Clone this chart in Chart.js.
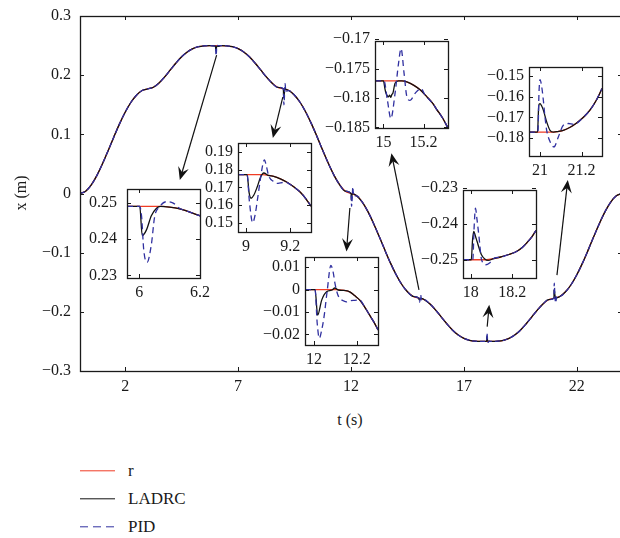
<!DOCTYPE html>
<html>
<head>
<meta charset="utf-8">
<script src="https://cdn.jsdelivr.net/npm/chart.js@4.4.0/dist/chart.umd.min.js"></script>
<style>
  body { margin: 0; width: 620px; height: 538px; overflow: hidden; background: #fff; position: relative;
         font-family: "Liberation Serif", "Times New Roman", serif; color: #1a1a1a; }
  canvas { position: absolute; }
  .txt { position: absolute; font-size: 16px; white-space: nowrap; }
  .leg { font-size: 17px; }
  .leg-line { position: absolute; left: 80px; width: 35px; height: 1.4px; transform: translateY(-50%); }
</style>
</head>
<body>
<canvas id="main" width="626" height="400" style="left:0;top:0"></canvas>

<div class="txt" style="left:21px;top:193px;transform:translate(-50%,-50%) rotate(-90deg)">x (m)</div>
<div class="txt" style="left:350px;top:420px;transform:translate(-50%,-50%)">t (s)</div>

<div class="leg-line" style="top:471px;background:#f03c24"></div>
<div class="txt leg" style="left:128px;top:471px;transform:translateY(-50%)">r</div>
<div class="leg-line" style="top:499px;background:#111"></div>
<div class="txt leg" style="left:128px;top:499px;transform:translateY(-50%)">LADRC</div>
<div class="leg-line" style="top:527px;background:repeating-linear-gradient(90deg,#3030a0 0 8px,transparent 8px 13px)"></div>
<div class="txt leg" style="left:128px;top:527px;transform:translateY(-50%)">PID</div>

<script>
// ---- main chart data ----
const timeTicks = [2, 7, 12, 17, 22];
const posTicks = [-0.3, -0.2, -0.1, 0, 0.1, 0.2, 0.3];

const tBase = [0,0.25,0.5,0.75,1,1.25,1.5,1.75,2,2.25,2.5,2.75,3,3.25,3.5,3.75,4,4.25,4.5,4.75,5,5.25,5.5,5.75,
  6,6.25,6.5,6.75,7,7.25,7.5,7.75,8,8.25,8.5,8.75,9,9.25,9.5,9.75,10,10.25,10.5,10.75,11,11.25,11.5,11.75,
  12,12.25,12.5,12.75,13,13.25,13.5,13.75,14,14.25,14.5,14.75,15,15.25,15.5,15.75,16,16.25,16.5,16.75,17,17.25,17.5,17.75,
  18,18.25,18.5,18.75,19,19.25,19.5,19.75,20,20.25,20.5,20.75,21,21.25,21.5,21.75,22,22.25,22.5,22.75,23,23.25,23.5,23.75,24];
const rBase = [0,0.0039,0.0145,0.0306,0.0506,0.0728,0.0957,0.1177,0.1373,0.1538,0.1661,0.1740,
  0.1768,0.1795,0.1868,0.1971,0.2089,0.2205,0.2310,0.2392,0.2448,0.2481,0.2496,0.2500,
  0.25,0.25,0.2496,0.2481,0.2448,0.2392,0.2310,0.2205,0.2089,0.1971,0.1868,0.1795,
  0.1768,0.1740,0.1661,0.1538,0.1373,0.1177,0.0957,0.0728,0.0506,0.0306,0.0145,0.0039,
  0,-0.0039,-0.0145,-0.0306,-0.0506,-0.0728,-0.0957,-0.1177,-0.1373,-0.1538,-0.1661,-0.1740,
  -0.1768,-0.1795,-0.1868,-0.1971,-0.2089,-0.2205,-0.2310,-0.2392,-0.2448,-0.2481,-0.2496,-0.2500,
  -0.25,-0.25,-0.2496,-0.2481,-0.2448,-0.2392,-0.2310,-0.2205,-0.2089,-0.1971,-0.1868,-0.1795,
  -0.1768,-0.1740,-0.1661,-0.1538,-0.1373,-0.1177,-0.0957,-0.0728,-0.0506,-0.0306,-0.0145,-0.0039,0];

// disturbance instants
const eventTimes = [6, 9, 12, 15, 18, 21];

// ---- inset data (zoomed views) ----
const r1T = [5.96, 6.0, 6.04, 6.08, 6.1, 6.13, 6.16, 6.2];
const r1V = [0.2491, 0.2491, 0.2491, 0.2491, 0.2489, 0.2485, 0.2477, 0.2465];
const l1T = [5.96, 6.002, 6.01, 6.024, 6.04, 6.057, 6.07, 6.1, 6.13, 6.16, 6.2];
const l1V = [0.2491, 0.2491, 0.241, 0.2426, 0.2465, 0.2486, 0.2491, 0.2489, 0.2485, 0.2477, 0.2465];
const p1T = [5.96, 6.002, 6.008, 6.015, 6.026, 6.04, 6.051, 6.066, 6.09, 6.112, 6.134, 6.16, 6.2];
const p1V = [0.2491, 0.2491, 0.2463, 0.2371, 0.2336, 0.2385, 0.2463, 0.2489, 0.2504, 0.25, 0.2485, 0.2477, 0.2465];

const r2T = [8.964, 9.0, 9.05, 9.075, 9.1, 9.125, 9.155, 9.185, 9.215, 9.245, 9.27, 9.293];
const r2V = [0.1772, 0.1772, 0.1772, 0.1772, 0.1768, 0.1762, 0.1748, 0.1729, 0.1703, 0.1672, 0.1635, 0.1593];
const l2T = [8.964, 9.005, 9.014, 9.023, 9.035, 9.05, 9.065, 9.08, 9.1, 9.125, 9.155, 9.185, 9.215, 9.245, 9.27, 9.293];
const l2V = [0.1772, 0.1772, 0.167, 0.1638, 0.1655, 0.170, 0.1755, 0.1781, 0.1768, 0.1762, 0.1748, 0.1729, 0.1703, 0.1672, 0.1635, 0.1593];
const p2T = [8.964, 9.005, 9.015, 9.03, 9.042, 9.05, 9.065, 9.075, 9.083, 9.092, 9.102, 9.125, 9.14, 9.155, 9.177, 9.2, 9.215, 9.245, 9.27, 9.293];
const p2V = [0.1772, 0.1772, 0.1625, 0.150, 0.155, 0.1616, 0.1747, 0.1825, 0.1856, 0.182, 0.1766, 0.1732, 0.1722, 0.1725, 0.1729, 0.1716, 0.1703, 0.1672, 0.1635, 0.1593];

const r3T = [11.958, 12.0, 12.05, 12.11, 12.14, 12.167, 12.19, 12.214, 12.237, 12.26, 12.28, 12.299];
const r3V = [0, 0, 0, 0, -0.0004, -0.001, -0.0027, -0.0047, -0.0078, -0.0114, -0.0145, -0.018];
const l3T = [11.958, 12.005, 12.017, 12.036, 12.059, 12.082, 12.098, 12.113, 12.14, 12.167, 12.19, 12.214, 12.237, 12.26, 12.28, 12.299];
const l3V = [0, 0, -0.0114, -0.0047, -0.001, -0.0003, 0.0007, -0.0002, -0.0004, -0.001, -0.0027, -0.0047, -0.0078, -0.0114, -0.0145, -0.018];
const p3T = [11.958, 12.005, 12.015, 12.025, 12.036, 12.047, 12.062, 12.079, 12.09, 12.098, 12.11, 12.121, 12.137, 12.152, 12.167, 12.19, 12.214, 12.237, 12.26, 12.28, 12.299];
const p3V = [0, 0, -0.015, -0.0217, -0.018, -0.0121, -0.0003, 0.0108, 0.0075, 0.0027, -0.002, -0.004, -0.005, -0.0055, -0.005, -0.0048, -0.0047, -0.0078, -0.0114, -0.0145, -0.018];

const r4T = [14.958, 15.0, 15.05, 15.092, 15.12, 15.15, 15.183, 15.217, 15.243, 15.267, 15.295, 15.322];
const r4V = [-0.1771, -0.1771, -0.1771, -0.1771, -0.1773, -0.1778, -0.1786, -0.1798, -0.1808, -0.182, -0.1834, -0.1851];
const l4T = [14.958, 15.0, 15.008, 15.013, 15.025, 15.031, 15.037, 15.042, 15.047, 15.058, 15.075, 15.092, 15.12, 15.15, 15.183, 15.217, 15.243, 15.267, 15.295, 15.322];
const l4V = [-0.1771, -0.1771, -0.1785, -0.1792, -0.1798, -0.1795, -0.1799, -0.1794, -0.1792, -0.1775, -0.1771, -0.1771, -0.1773, -0.1778, -0.1786, -0.1798, -0.1808, -0.182, -0.1834, -0.1851];
const p4T = [14.958, 15.003, 15.02, 15.037, 15.058, 15.075, 15.088, 15.103, 15.117, 15.133, 15.158, 15.187, 15.208, 15.243, 15.267, 15.295, 15.322];
const p4V = [-0.1771, -0.1771, -0.1804, -0.1835, -0.1792, -0.1742, -0.1716, -0.1758, -0.1798, -0.1804, -0.1792, -0.1784, -0.1795, -0.1808, -0.182, -0.1834, -0.1851];

const r5T = [17.963, 18.0, 18.04, 18.076, 18.11, 18.14, 18.18, 18.221, 18.25, 18.27, 18.295, 18.315];
const r5V = [-0.25, -0.25, -0.25, -0.25, -0.2497, -0.2493, -0.2486, -0.2477, -0.2465, -0.2453, -0.2436, -0.2418];
const l5T = [17.963, 18.003, 18.009, 18.015, 18.022, 18.031, 18.042, 18.052, 18.068, 18.084, 18.11, 18.14, 18.18, 18.221, 18.25, 18.27, 18.295, 18.315];
const l5V = [-0.25, -0.25, -0.2445, -0.2421, -0.2432, -0.2449, -0.247, -0.2486, -0.2498, -0.2502, -0.2497, -0.2493, -0.2486, -0.2477, -0.2465, -0.2453, -0.2436, -0.2418];
const p5T = [17.963, 18.01, 18.017, 18.023, 18.03, 18.04, 18.052, 18.073, 18.095, 18.116, 18.14, 18.18, 18.221, 18.25, 18.27, 18.295, 18.315];
const p5V = [-0.25, -0.25, -0.2405, -0.2356, -0.2385, -0.2435, -0.2498, -0.2514, -0.2507, -0.2495, -0.2493, -0.2486, -0.2477, -0.2465, -0.2453, -0.2436, -0.2418];

const r6T = [20.947, 21.0, 21.056, 21.085, 21.112, 21.145, 21.176, 21.21, 21.24, 21.27, 21.298];
const r6V = [-0.1772, -0.1772, -0.1772, -0.1769, -0.1763, -0.1748, -0.1727, -0.1698, -0.1665, -0.1618, -0.156];
const l6T = [20.947, 20.988, 20.994, 21.0, 21.008, 21.016, 21.032, 21.048, 21.064, 21.085, 21.112, 21.145, 21.176, 21.21, 21.24, 21.27, 21.298];
const l6V = [-0.1772, -0.1772, -0.1641, -0.1633, -0.1645, -0.1665, -0.1722, -0.1763, -0.1772, -0.1769, -0.1763, -0.1748, -0.1727, -0.1698, -0.1665, -0.1618, -0.156];
const p6T = [20.947, 20.99, 20.995, 21.0, 21.008, 21.016, 21.024, 21.032, 21.05, 21.067, 21.088, 21.112, 21.136, 21.163, 21.21, 21.24, 21.27, 21.298];
const p6V = [-0.1772, -0.1772, -0.158, -0.1516, -0.155, -0.1617, -0.17, -0.1763, -0.1822, -0.1844, -0.1795, -0.1738, -0.173, -0.1734, -0.1698, -0.1665, -0.1618, -0.156];

// arrows: from (t, x) on the curve to (t, x) near the inset
const arrowFrom = [[6.05, 0.234], [8.98, 0.163], [11.95, -0.0245], [15.01, -0.163], [18.03, -0.225], [21.12, -0.138]];
const arrowTo   = [[4.42, 0.0228], [8.54, 0.094], [11.80, -0.098], [13.79, 0.068], [18.12, -0.188], [21.6, 0.023]];

// ---- styles ----
const RED = '#f03c24';
const BLACK = '#111';
const BLUE = '#3030a0';
const AXIS = '#1a1a1a';
const FONT = { family: '"Liberation Serif", "Times New Roman", serif', size: 16 };

// Helper functions
function fmt(v) {
  return v < 0 ? '\u2212' + String(-v) : String(v);
}

function toPoints(ts, vs) {
  return ts.map((t, i) => ({ x: t, y: vs[i] }));
}

// base curve with the disturbance stretches taken from the zoomed data
function mainSeries(tList, vList) {
  let pts = toPoints(tBase, rBase);
  eventTimes.forEach((T, k) => {
    const lo = T - 0.02, hi = T + 0.13;
    pts = pts.filter(p => p.x < lo || p.x > hi);
    tList[k].forEach((t, i) => {
      if (t >= lo && t <= hi) pts.push({ x: t, y: vList[k][i] });
    });
  });
  return pts.sort((a, b) => a.x - b.x);
}

// box with inward tick marks on all four sides
const frameTicks = {
  id: 'frameTicks',
  afterDraw(chart) {
    const { ctx, chartArea: a, scales } = chart;
    const len = 4;
    ctx.save();
    ctx.strokeStyle = AXIS;
    ctx.lineWidth = 1;
    ctx.beginPath();
    scales.x.ticks.forEach(tk => {
      const x = Math.round(scales.x.getPixelForValue(tk.value)) + 0.5;
      ctx.moveTo(x, a.bottom); ctx.lineTo(x, a.bottom - len);
      ctx.moveTo(x, a.top); ctx.lineTo(x, a.top + len);
    });
    scales.y.ticks.forEach(tk => {
      const y = Math.round(scales.y.getPixelForValue(tk.value)) + 0.5;
      ctx.moveTo(a.left, y); ctx.lineTo(a.left + len, y);
      ctx.moveTo(a.right, y); ctx.lineTo(a.right - len, y);
    });
    ctx.stroke();
    ctx.lineWidth = 1.3;
    ctx.strokeRect(Math.round(a.left) + 0.5, Math.round(a.top) + 0.5,
                   Math.round(a.right - a.left), Math.round(a.bottom - a.top));
    ctx.restore();
  }
};

const arrowPlugin = {
  id: 'arrows',
  afterDatasetsDraw(chart) {
    const { ctx, scales: { x, y } } = chart;
    ctx.save();
    ctx.strokeStyle = BLACK;
    ctx.fillStyle = BLACK;
    ctx.lineWidth = 1.2;
    arrowFrom.forEach((f, i) => {
      const x0 = x.getPixelForValue(f[0]), y0 = y.getPixelForValue(f[1]);
      const x1 = x.getPixelForValue(arrowTo[i][0]), y1 = y.getPixelForValue(arrowTo[i][1]);
      const d = Math.hypot(x1 - x0, y1 - y0);
      const ux = (x1 - x0) / d, uy = (y1 - y0) / d;
      const L = 13, W = 5.5;
      ctx.beginPath();
      ctx.moveTo(x0, y0);
      ctx.lineTo(x1 - ux * L * 0.6, y1 - uy * L * 0.6);
      ctx.stroke();
      ctx.beginPath();
      ctx.moveTo(x1, y1);
      ctx.lineTo(x1 - ux * L - uy * W, y1 - uy * L + ux * W);
      ctx.lineTo(x1 - ux * L * 0.62, y1 - uy * L * 0.62);
      ctx.lineTo(x1 - ux * L + uy * W, y1 - uy * L - ux * W);
      ctx.closePath();
      ctx.fill();
    });
    ctx.restore();
  }
};

function axisOptions(min, max, ticks, size, pad, isX) {
  return {
    type: 'linear',
    min: min,
    max: max,
    afterBuildTicks: s => { s.ticks = ticks.map(v => ({ value: v })); },
    afterFit: s => {
      if (isX) s.height = size; else s.width = size;
      // keep the plot box exactly where the layout padding puts it
      s.paddingTop = 0; s.paddingBottom = 0; s.paddingLeft = 0; s.paddingRight = 0;
    },
    grid: { display: false, drawTicks: false },
    border: { display: false },
    ticks: { font: FONT, color: AXIS, padding: pad, maxRotation: 0, autoSkip: false, callback: v => fmt(v) }
  };
}

function seriesSets(r, l, p, dash) {
  return [
    { label: 'r', data: r, borderColor: RED, borderWidth: 1.3, order: 3 },
    { label: 'LADRC', data: l, borderColor: BLACK, borderWidth: 1.3, order: 2 },
    { label: 'PID', data: p, borderColor: BLUE, borderWidth: 1.3, borderDash: dash, order: 1 }
  ];
}

const baseOptions = {
  responsive: false,
  animation: false,
  events: [],
  elements: { point: { radius: 0 }, line: { cubicInterpolationMode: 'monotone' } },
  plugins: { legend: { display: false }, tooltip: { enabled: false } }
};

// ---- main chart ----
new Chart(document.getElementById('main'), {
  type: 'line',
  data: {
    datasets: seriesSets(
      toPoints(tBase, rBase),
      mainSeries([l1T, l2T, l3T, l4T, l5T, l6T], [l1V, l2V, l3V, l4V, l5V, l6V]),
      mainSeries([p1T, p2T, p3T, p4T, p5T, p6T], [p1V, p2V, p3V, p4V, p5V, p6V]),
      [5, 3]
    )
  },
  options: Object.assign({}, baseOptions, {
    layout: { padding: { top: 16, right: 4, left: 0, bottom: 0 }, autoPadding: false },
    scales: {
      x: axisOptions(0, 24, timeTicks, 29, 6, true),
      y: axisOptions(-0.3, 0.3, posTicks, 80, 9, false)
    }
  }),
  plugins: [frameTicks, arrowPlugin]
});

// ---- insets ----
const insets = [
  { box: [127, 189, 73, 89], x: [5.96, 6.2], y: [0.2293, 0.2539], xt: [6, 6.2], yt: [0.23, 0.24, 0.25], pad: 10,
    r: [r1T, r1V], l: [l1T, l1V], p: [p1T, p1V] },
  { box: [238, 143, 73, 89], x: [8.964, 9.293], y: [0.1447, 0.1951], xt: [9, 9.2], yt: [0.15, 0.16, 0.17, 0.18, 0.19], pad: 5,
    r: [r2T, r2V], l: [l2T, l2V], p: [p2T, p2V] },
  { box: [305, 257, 73, 88], x: [11.958, 12.299], y: [-0.0247, 0.0145], xt: [12, 12.2], yt: [-0.02, -0.01, 0, 0.01], pad: 5,
    r: [r3T, r3V], l: [l3T, l3V], p: [p3T, p3V] },
  { box: [375, 41, 73, 87], x: [14.958, 15.322], y: [-0.1851, -0.1703], xt: [15, 15.2], yt: [-0.185, -0.18, -0.175, -0.17], pad: 5,
    r: [r4T, r4V], l: [l4T, l4V], p: [p4T, p4V] },
  { box: [463, 190, 73, 88], x: [17.963, 18.315], y: [-0.2551, -0.2305], xt: [18, 18.2], yt: [-0.25, -0.24, -0.23], pad: 5,
    r: [r5T, r5V], l: [l5T, l5V], p: [p5T, p5V] },
  { box: [529, 67, 73, 89], x: [20.947, 21.298], y: [-0.1888, -0.1455], xt: [21, 21.2], yt: [-0.18, -0.17, -0.16, -0.15], pad: 5,
    r: [r6T, r6V], l: [l6T, l6V], p: [p6T, p6V] }
];

const LW = 60, TP = 10, RP = 10, BH = 26;
insets.forEach(cfg => {
  const [bx, by, bw, bh] = cfg.box;
  const cv = document.createElement('canvas');
  cv.width = LW + bw + RP;
  cv.height = TP + bh + BH;
  cv.style.left = (bx - LW) + 'px';
  cv.style.top = (by - TP) + 'px';
  document.body.appendChild(cv);

  new Chart(cv, {
    type: 'line',
    data: {
      datasets: seriesSets(toPoints(...cfg.r), toPoints(...cfg.l), toPoints(...cfg.p), [6, 4])
    },
    options: Object.assign({}, baseOptions, {
      layout: { padding: { top: TP, right: RP, left: 0, bottom: 0 }, autoPadding: false },
      scales: {
        x: axisOptions(cfg.x[0], cfg.x[1], cfg.xt, BH, 5, true),
        y: axisOptions(cfg.y[0], cfg.y[1], cfg.yt, LW, cfg.pad, false)
      }
    }),
    plugins: [frameTicks]
  });
});
</script>
</body>
</html>
